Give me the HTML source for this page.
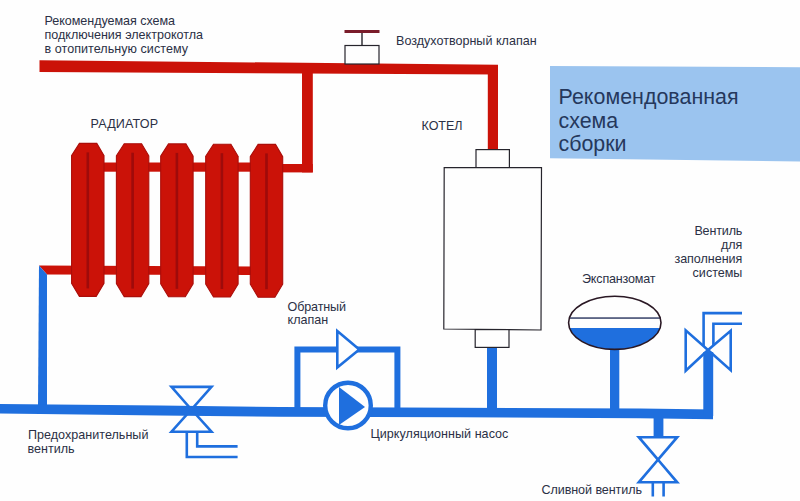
<!DOCTYPE html>
<html lang="ru">
<head>
<meta charset="utf-8">
<title>Рекомендуемая схема подключения электрокотла</title>
<style>
html,body{margin:0;padding:0;background:#fefefe;}
body{width:800px;height:501px;overflow:hidden;}
svg{display:block;}
text{font-family:"Liberation Sans",Arial,sans-serif;fill:#2b3045;}
.t{font-size:12.55px;}
.big{font-size:21.4px;fill:#25385c;}
.r{fill:#cb1208;}
.rs{fill:#cb1208;stroke:#ab0e0a;stroke-width:1.1;}
.b{fill:#1f6fde;}
.bs{fill:none;stroke:#1f6fde;stroke-width:2.6;stroke-linejoin:miter;}
.k{fill:#fefefe;stroke:#26242c;stroke-width:1.2;}
</style>
</head>
<body>
<svg width="800" height="501" viewBox="0 0 800 501">
<rect width="800" height="501" fill="#fefefe"/>

<!-- blue title box -->
<polygon points="550,66 800,67.3 800,161.6 550,158.2" fill="#9bc4ef"/>
<text class="big" x="558.6" y="104" textLength="180">Рекомендованная</text>
<text class="big" x="558.5" y="127.7">схема</text>
<text class="big" x="558.5" y="150.8">сборки</text>

<!-- red supply pipe -->
<polygon class="r" points="39.5,60.3 498,64.7 498,74.5 39.5,72"/>
<rect class="r" x="302" y="68" width="10.8" height="104.4"/>
<rect class="r" x="282" y="164" width="30.8" height="8.4"/>
<rect class="r" x="487.8" y="68" width="10.2" height="82"/>

<!-- radiator -->
<g id="rad">
<rect class="r" x="100" y="162.5" width="160" height="9.2"/>
<polygon class="r" points="39,265.4 260,266.6 260,275 47,274.6"/>
<polygon class="rs" points="71.6,155.6 79.4,143.4 96.8,143.4 104.0,155.6 104.0,283.4 96.2,296.4 79.4,296.4 71.6,283.4"/>
<rect x="86.5" y="152.4" width="2.6" height="136.0" fill="#9e0b0b"/>
<polygon class="rs" points="116.4,155.8 124.2,143.7 141.6,143.7 148.8,155.8 148.8,283.6 141.0,296.6 124.2,296.6 116.4,283.6"/>
<rect x="131.3" y="152.7" width="2.6" height="135.9" fill="#9e0b0b"/>
<polygon class="rs" points="160.7,156.1 168.5,143.9 185.9,143.9 193.1,156.1 193.1,283.8 185.3,296.8 168.5,296.8 160.7,283.8"/>
<rect x="175.6" y="152.9" width="2.6" height="135.9" fill="#9e0b0b"/>
<polygon class="rs" points="205.7,156.3 213.5,144.2 230.9,144.2 238.1,156.3 238.1,284.0 230.3,297.0 213.5,297.0 205.7,284.0"/>
<rect x="220.6" y="153.2" width="2.6" height="135.8" fill="#9e0b0b"/>
<polygon class="rs" points="250.3,156.6 258.1,144.4 275.5,144.4 282.7,156.6 282.7,284.2 274.9,297.2 258.1,297.2 250.3,284.2"/>
<rect x="265.2" y="153.4" width="2.6" height="135.8" fill="#9e0b0b"/>
</g>

<!-- blue return -->
<polygon class="b" points="39,265.6 47,274.4 47,406 38,406"/>
<polygon class="b" points="0,404 160,405.6 280,407 460,407.7 640,408.6 713,409.5 713,419.2 640,418.2 460,417.3 280,416.8 160,415.4 0,413.6"/>
<rect class="b" x="487" y="347" width="10" height="65"/>
<rect class="b" x="610" y="348" width="9.3" height="65"/>
<rect class="b" x="703.3" y="352" width="9.9" height="64"/>
<rect class="b" x="653.6" y="416" width="9.8" height="21"/>

<!-- bypass loop -->
<path d="M297.4,408 V349.5 H397.4 V409" fill="none" stroke="#1f6fde" stroke-width="6"/>
<!-- check valve -->
<polygon points="337.3,331 337.3,367.6 359.3,349.5" fill="#fefefe" stroke="#1f6fde" stroke-width="2.6"/>

<!-- pump -->
<circle cx="348" cy="405.5" r="22.8" fill="#fefefe" stroke="#1f6fde" stroke-width="4.4"/>
<polygon class="b" points="339,387 339,425 365,407"/>

<!-- safety valve -->
<polygon class="bs" points="171.5,386.9 211.5,386.9 191.4,409.5"/>
<polygon class="bs" points="171.5,431.7 211.5,431.7 191.4,409.5"/>
<path class="bs" d="M186.8,433 V457 H237.6"/>
<path class="bs" d="M197.2,433 V446.4 H237.6"/>

<!-- air valve -->
<rect class="k" x="345" y="45.5" width="34" height="18.5"/>
<rect x="361.3" y="32" width="1.4" height="13.5" fill="#26242c"/>
<rect x="344.5" y="30" width="35" height="3" fill="#7a1c2a"/>

<!-- boiler -->
<rect class="k" x="476" y="149.6" width="33.4" height="18"/>
<polygon class="k" points="444.2,167.6 541.5,167.6 541,330 443.8,329"/>
<rect class="k" x="475.2" y="329.6" width="33.8" height="17.8"/>

<!-- expansion tank -->
<ellipse cx="614.8" cy="322.8" rx="46.2" ry="26.6" fill="#fefefe"/>
<clipPath id="ec"><ellipse cx="614.8" cy="322.8" rx="46.2" ry="26.6"/></clipPath>
<rect x="560" y="328" width="110" height="30" class="b" clip-path="url(#ec)"/>
<rect x="569" y="317.4" width="91.6" height="1.3" fill="#182450"/>
<ellipse cx="614.8" cy="322.8" rx="46.2" ry="26.6" fill="none" stroke="#2a1824" stroke-width="1.6"/>

<!-- fill valve -->
<polygon class="bs" points="685.7,330.3 685.7,370.7 708,350"/>
<polygon class="bs" points="730.7,330.8 730.7,370.2 708,350"/>
<path class="bs" d="M703.6,346 V313.1 H742"/>
<path class="bs" d="M713.4,345 V323.7 H742"/>

<!-- drain valve -->
<polygon class="bs" points="638.8,437.2 677.2,437.2 658,459.7"/>
<polygon class="bs" points="638.8,482.3 677.2,482.3 658,459.7"/>
<line class="bs" x1="652.8" y1="483" x2="652.8" y2="496.5"/>
<line class="bs" x1="663.6" y1="483" x2="663.6" y2="496.5"/>

<!-- labels -->
<text class="t" x="44.5" y="25" textLength="130.5">Рекомендуемая схема</text>
<text class="t" x="44.5" y="38.8" textLength="158.5">подключения электрокотла</text>
<text class="t" x="44.5" y="52.5" textLength="143.5">в отопительную систему</text>
<text class="t" x="396" y="44.5" textLength="140.6">Воздухотворный клапан</text>
<text class="t" x="90.6" y="127.8" textLength="67.5">РАДИАТОР</text>
<text class="t" x="421.6" y="130" textLength="40.8">КОТЕЛ</text>
<text class="t" x="287.6" y="311" textLength="58.4">Обратный</text>
<text class="t" x="287.6" y="324.4">клапан</text>
<text class="t" x="582" y="283.1" textLength="73.6">Экспанзомат</text>
<text class="t" x="742.4" y="235.4" text-anchor="end" textLength="48">Вентиль</text>
<text class="t" x="742.4" y="249.3" text-anchor="end">для</text>
<text class="t" x="742.4" y="263.1" text-anchor="end" textLength="68">заполнения</text>
<text class="t" x="742.4" y="277.3" text-anchor="end">системы</text>
<text class="t" x="28" y="439.4" textLength="120.4">Предохранительный</text>
<text class="t" x="27.6" y="452.7">вентиль</text>
<text class="t" x="370.4" y="438" textLength="138">Циркуляционный насос</text>
<text class="t" x="541.5" y="493.8" textLength="100.5">Сливной вентиль</text>
</svg>
</body>
</html>
